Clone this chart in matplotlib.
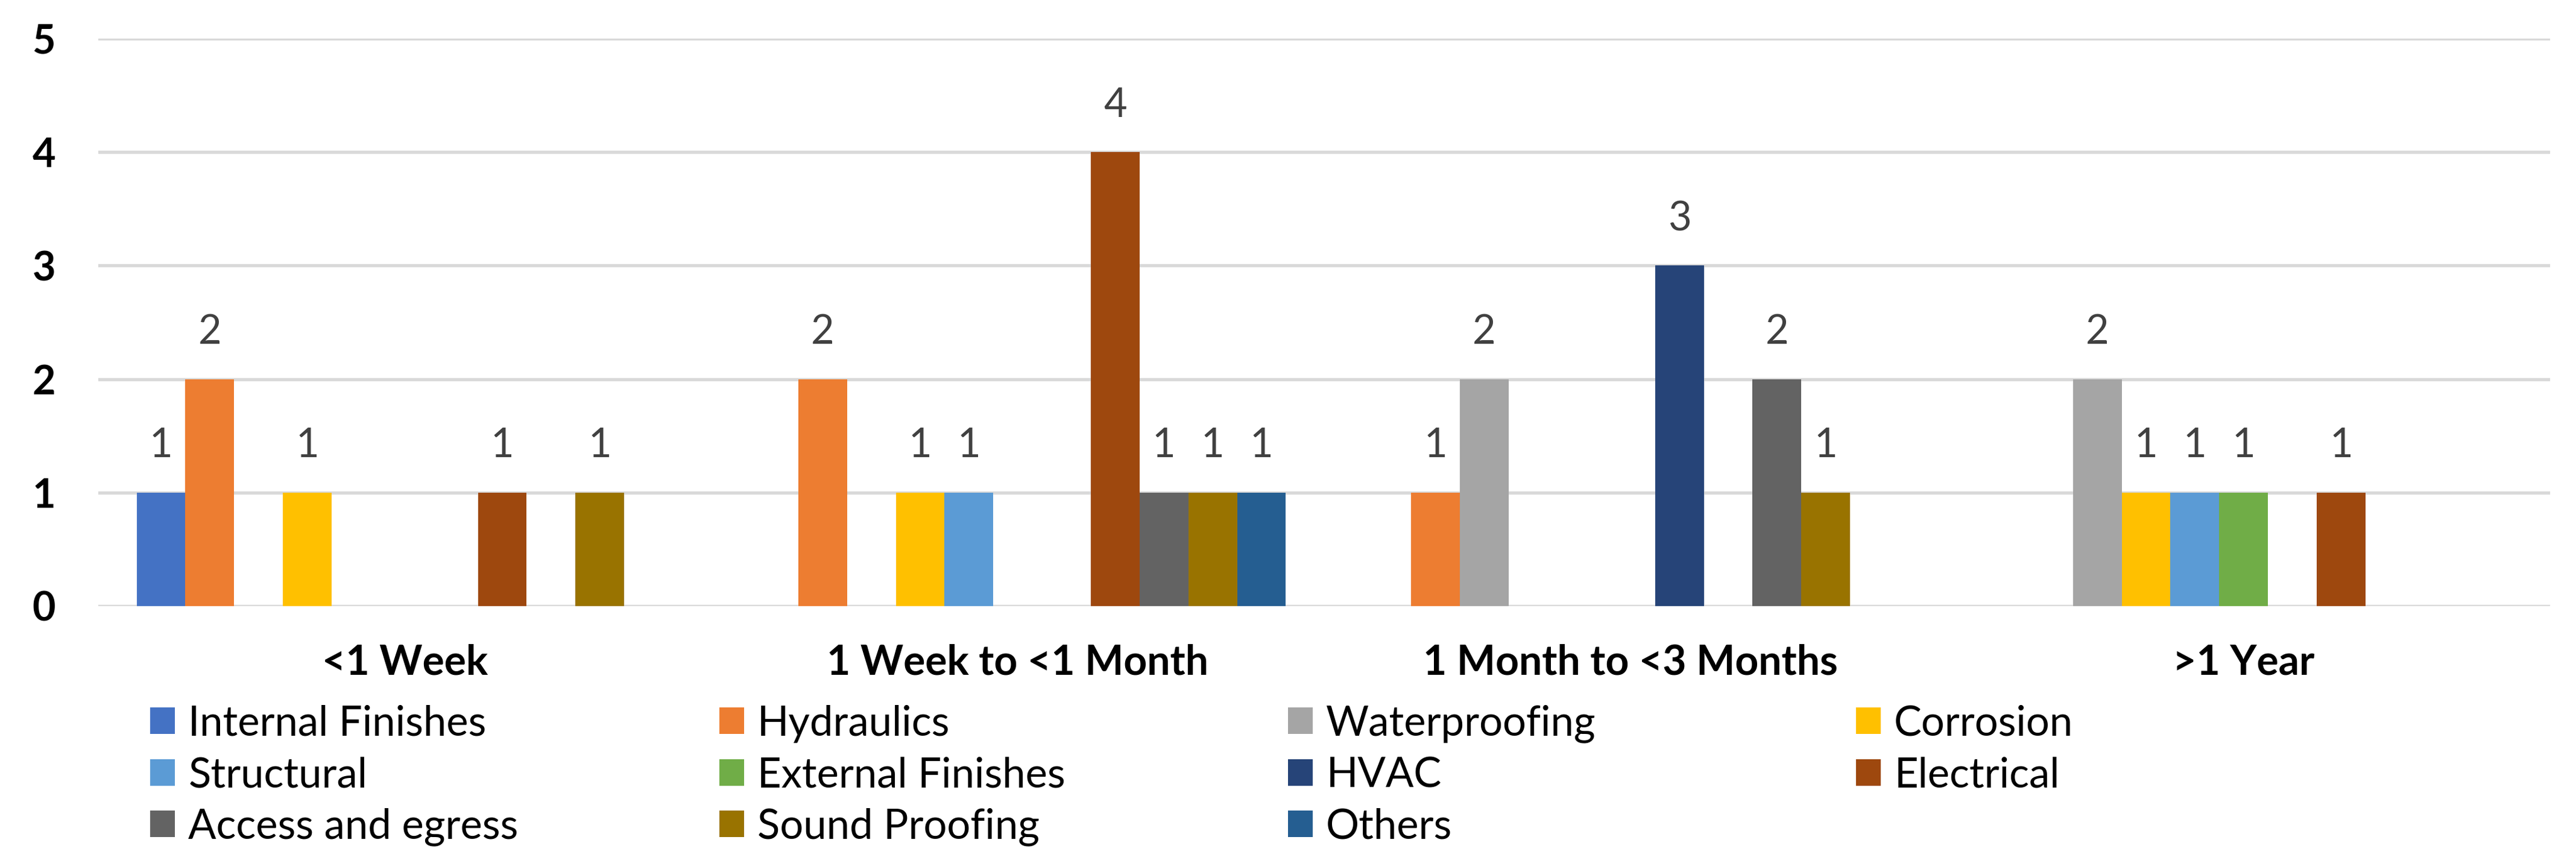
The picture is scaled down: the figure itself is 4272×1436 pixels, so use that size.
import numpy as np
import matplotlib
matplotlib.use("Agg")
import matplotlib.pyplot as plt

plt.rcParams['font.family'] = ['Lato', 'DejaVu Sans']

categories = ["<1 Week", "1 Week to <1 Month", "1 Month to <3 Months", ">1 Year"]
series = ["Internal Finishes", "Hydraulics", "Waterproofing", "Corrosion",
          "Structural", "External Finishes", "HVAC", "Electrical",
          "Access and egress", "Sound Proofing", "Others"]
nan = np.nan
internal_finishes = [1, nan, nan, nan]
hydraulics = [2, 2, 1, nan]
waterproofing = [nan, nan, 2, 2]
corrosion = [1, 1, nan, 1]
structural = [nan, 1, nan, 1]
external_finishes = [nan, nan, nan, 1]
hvac = [nan, nan, 3, nan]
electrical = [1, 4, nan, 1]
access_egress = [nan, 1, 2, nan]
sound_proofing = [1, 1, 1, nan]
others = [nan, 1, nan, nan]
values = [internal_finishes, hydraulics, waterproofing, corrosion, structural,
          external_finishes, hvac, electrical, access_egress, sound_proofing, others]
colors = ["#4472C4", "#ED7D31", "#A5A5A5", "#FFC000", "#5B9BD5", "#70AD47",
          "#264478", "#9E480E", "#636363", "#997300", "#255E91"]
yticks = [0, 1, 2, 3, 4, 5]

W, H, DPI = 4272, 1436, 300
fig = plt.figure(figsize=(W / DPI, H / DPI), dpi=DPI)
ax = fig.add_axes([163 / W, 1 - 1005 / H, (4229 - 163) / W, (1005 - 64) / H])

x = np.arange(len(categories))
n = len(series)
w = 0.875 / n
handles = []
for i, (name, vals, c) in enumerate(zip(series, values, colors)):
    bars = ax.bar(x + (i - (n - 1) / 2) * w, vals, w, color=c, label=name, zorder=3)
    handles.append(bars)
    for rect, v in zip(bars, vals):
        if not np.isnan(v):
            ax.annotate(f"{int(v)}", (rect.get_x() + rect.get_width() / 2, rect.get_height()),
                        xytext=(0, 14), textcoords="offset points", ha="center",
                        va="baseline", fontsize=16, color="#404040")

ax.set_xlim(-0.5, len(categories) - 0.5)
ax.set_ylim(0, 5)
ax.set_yticks(yticks)
ax.set_yticklabels([str(t) for t in yticks], fontweight="bold", fontsize=16, color="black")
ax.set_xticks(x)
ax.set_xticklabels(categories, fontweight="bold", fontsize=16.3, color="black")
ax.tick_params(axis="y", length=0, pad=17)
ax.tick_params(axis="x", length=0, pad=15)
for s in ax.spines.values():
    s.set_visible(False)
ax.yaxis.grid(True, color="#D9D9D9", linewidth=1.3, zorder=0)
ax.set_axisbelow(True)

# legend: 4 evenly spaced columns, 3 rows (row-major order)
col_x = [249, 1193, 2136, 3078]
row_y = [1200, 1285.5, 1371]
for k, (h, name) in enumerate(zip(handles, series)):
    r, cidx = divmod(k, 4)
    leg = fig.legend([h], [name], loc="center left",
                     bbox_to_anchor=(col_x[cidx] / W, 1 - row_y[r] / H),
                     frameon=False, borderpad=0, borderaxespad=0, fontsize=16.5,
                     handlelength=0.6, handleheight=0.6, handletextpad=0.32)
    for t in leg.get_texts():
        t.set_color("black")

fig.savefig("out.png", dpi=DPI, facecolor="white")
